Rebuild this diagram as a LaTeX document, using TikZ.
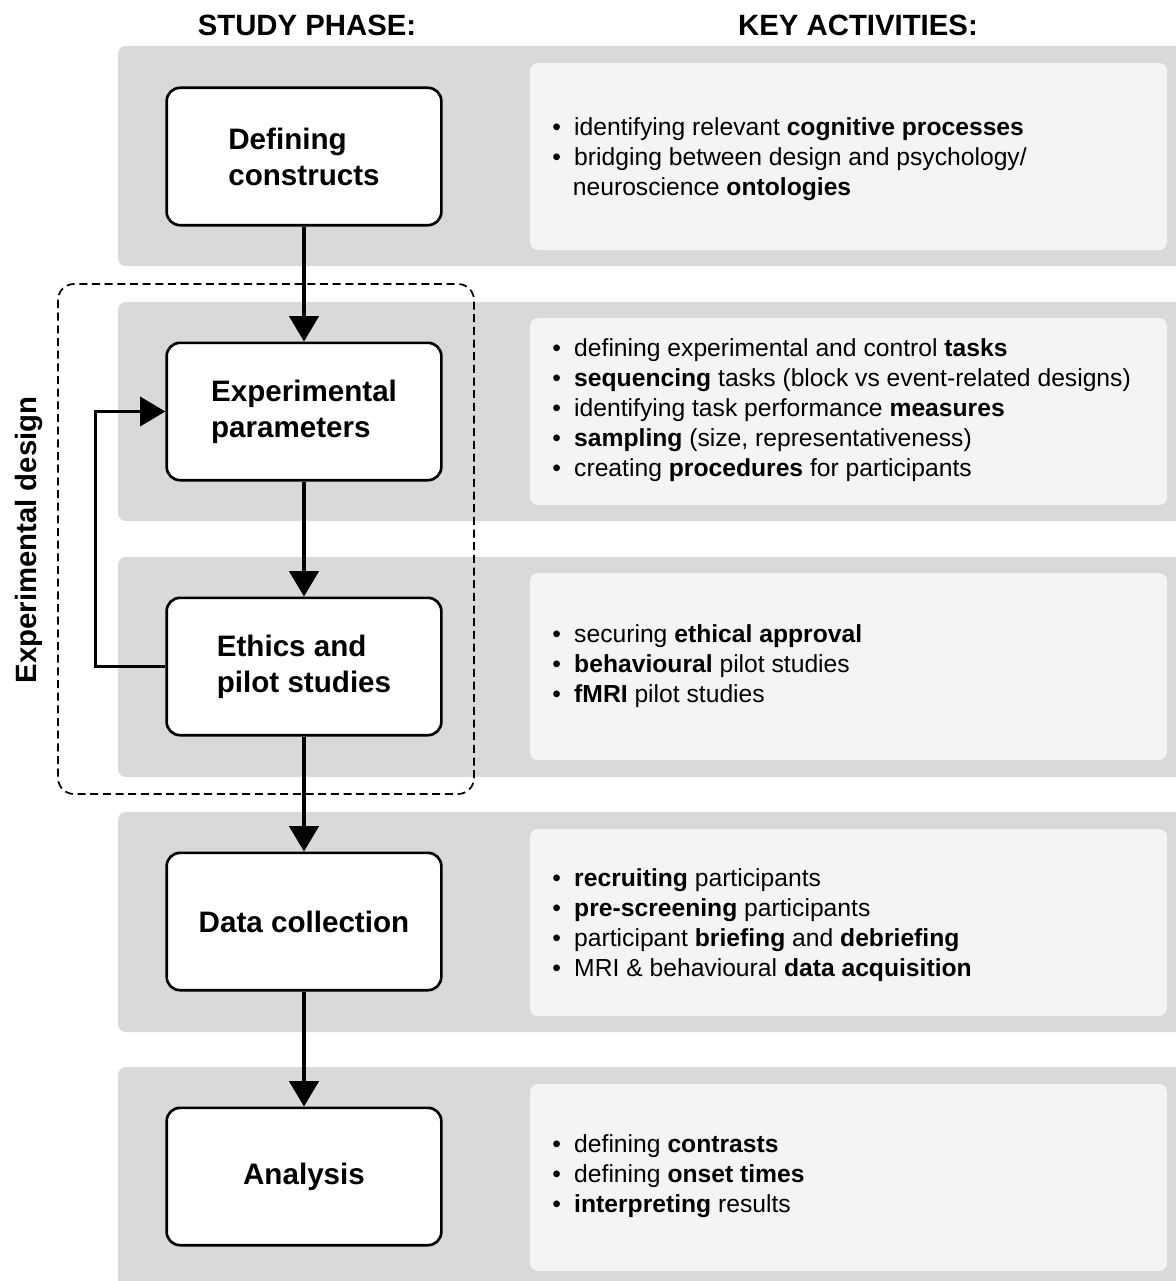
\documentclass[tikz,border=0pt]{standalone}
\usepackage{fontspec}
\setmainfont{Liberation Sans}
\usetikzlibrary{arrows.meta}
\definecolor{bandgray}{HTML}{D9D9D9}
\definecolor{notegray}{HTML}{F4F4F4}
\newcommand{\itm}{\textbullet\hspace{10pt}}
\newcommand{\itmgap}{\phantom{\textbullet}\hspace{9pt}}

\begin{document}
\begin{tikzpicture}[x=0.75pt, y=-0.75pt,
  band/.style={fill=bandgray, rounded corners=6pt},
  note/.style={fill=notegray, rounded corners=6pt},
  phase/.style={draw, line width=2pt, fill=white, rounded corners=10pt,
    minimum width=206pt, minimum height=103pt, align=left,
    font=\fontsize{22.2}{27}\selectfont\bfseries},
  acts/.style={anchor=west, inner sep=0pt, align=left,
    font=\fontsize{18.5}{22.5}\selectfont},
  head/.style={font=\fontsize{22}{27}\selectfont\bfseries},
  flow/.style={line width=2.3pt, -{Triangle[width=22pt,length=19pt]}}]
  \useasboundingbox (0,0) rectangle (1176,1281);
  \clip (0,0) rectangle (1176,1281);

  % rows
  \fill [band] (118,46) rectangle (1190,266);
  \fill [band] (118,302) rectangle (1190,521);
  \fill [band] (118,557) rectangle (1190,777);
  \fill [band] (118,812) rectangle (1190,1032);
  \fill [band] (118,1067) rectangle (1190,1300);
  \fill [note] (530,63) rectangle (1167,250);
  \fill [note] (530,318) rectangle (1167,505);
  \fill [note] (530,573) rectangle (1167,760);
  \fill [note] (530,829) rectangle (1167,1016);
  \fill [note] (530,1084) rectangle (1167,1271);

  \node [head] (SP) at (307, 25) {STUDY PHASE:};
  \node [head] (KA) at (858, 25) {KEY ACTIVITIES:};

  % experimental design group
  \draw [line width=1.3pt, dash pattern=on 6pt off 3.5pt, rounded corners=12pt]
    (58, 284) rectangle (474, 794);
  \node [head, rotate=90] (XD) at (29, 540) {Experimental design};

  \node [phase] (DEF) at (304, 156.5) {Defining\\constructs};
  \node [phase] (EXP) at (304, 411.5) {Experimental\\parameters};
  \node [phase] (ETH) at (304, 666.5) {Ethics and\\pilot studies};
  \node [phase] (DAT) at (304, 921.5) {Data collection};
  \node [phase] (ANA) at (304, 1176.5) {Analysis};

  \draw [flow] (DEF) -- (EXP);
  \draw [flow] (EXP) -- (ETH);
  \draw [flow] (ETH) -- (DAT);
  \draw [flow] (DAT) -- (ANA);
  \draw [flow] (ETH.west) -- ++(-70, 0) |- (EXP.west);

  \node [acts] (DEFa) at (552, 159) {\itm identifying relevant \textbf{cognitive processes}\\
    \itm bridging between design and psychology/\\
    \itmgap neuroscience \textbf{ontologies}};
  \node [acts] (EXPa) at (552, 410) {\itm defining experimental and control \textbf{tasks}\\
    \itm \textbf{sequencing} tasks (block vs event-related designs)\\
    \itm identifying task performance \textbf{measures}\\
    \itm \textbf{sampling} (size, representativeness)\\
    \itm creating \textbf{procedures} for participants};
  \node [acts] (ETHa) at (552, 666) {\itm securing \textbf{ethical approval}\\
    \itm \textbf{behavioural} pilot studies\\
    \itm \textbf{fMRI} pilot studies};
  \node [acts] (DATa) at (552, 925) {\itm \textbf{recruiting} participants\\
    \itm \textbf{pre-screening} participants\\
    \itm participant \textbf{briefing} and \textbf{debriefing}\\
    \itm MRI \& behavioural \textbf{data acquisition}};
  \node [acts] (ANAa) at (552, 1176) {\itm defining \textbf{contrasts}\\
    \itm defining \textbf{onset times}\\
    \itm \textbf{interpreting} results};
\end{tikzpicture}
\end{document}
